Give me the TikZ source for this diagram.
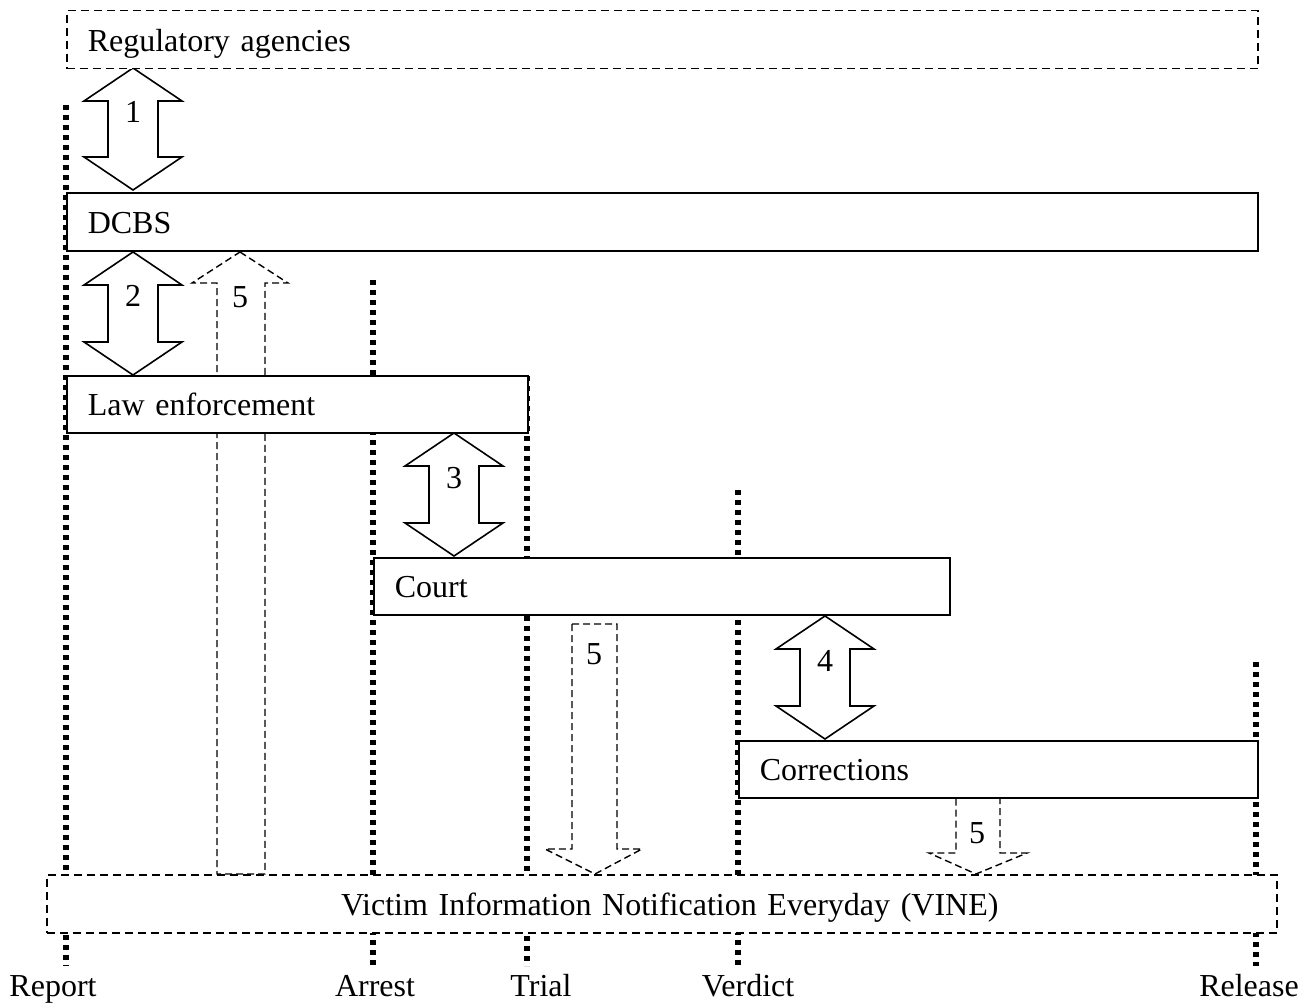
\documentclass[tikz,border=0pt]{standalone}
\usepackage{fontspec}
\setmainfont{Liberation Serif}
\begin{document}
\begin{tikzpicture}[x=1pt,y=-1pt,
  every node/.style={font=\fontsize{32}{37}\selectfont},
  box/.style={draw, line width=1.6pt, fill=white, anchor=north west,
    inner xsep=21pt, inner ysep=0pt, align=left,
    text height=23pt, text depth=0pt, minimum height=58pt},
  dbox/.style={box, dash pattern=on 8pt off 5pt, line width=1.5pt},
  timeline/.style={line width=5.5pt, dash pattern=on 5pt off 5pt},
  dblarrow/.style={draw, line width=1.6pt, fill=white, line join=miter},
  dasharrow/.style={draw, line width=1.4pt, dash pattern=on 7pt off 4pt},
  num/.style={anchor=base, inner sep=0pt},
  lab/.style={anchor=base, inner sep=0pt}]
\useasboundingbox (0,0) rectangle (1310,1003);

% time labels
\node[lab] (report)  at (53,996)   {Report};
\node[lab] (arrest)  at (375,996)  {Arrest};
\node[lab] (trial)   at (541,996)  {Trial};
\node[lab] (verdict) at (748,996)  {Verdict};
\node[lab] (release) at (1249,996) {Release};

% time lines
\coordinate (reportT)  at (66,105);
\coordinate (reportB)  at (66,966);
\coordinate (arrestT)  at (373,280);
\coordinate (arrestB)  at (373,966);
\coordinate (trialT)   at (527,376);
\coordinate (trialB)   at (527,966);
\coordinate (verdictT) at (738,490);
\coordinate (verdictB) at (738,966);
\coordinate (releaseT) at (1256,662);
\coordinate (releaseB) at (1256,966);
\draw[timeline] (reportT) -- (reportB);
\draw[timeline] (arrestT) -- (arrestB);
\draw[timeline] (trialT) -- (trialB);
\draw[timeline] (verdictT) -- (verdictB);
\draw[timeline] (releaseT) -- (releaseB);

% dashed arrows (5)
\draw[dasharrow] (240,252) -- (288,283) -- (265,283) -- (265,874) -- (217,874) -- (217,283) -- (192,283) -- cycle;
\node[num] (n5a) at (240,308) {5};
\draw[dasharrow] (572,624) -- (617,624) -- (617,849) -- (642,849) -- (595,874) -- (545,849) -- (572,849) -- cycle;
\node[num] (n5b) at (594,664) {5};
\draw[dasharrow] (956,797) -- (1000,797) -- (1000,853) -- (1027,853) -- (976,874) -- (929,853) -- (956,853) -- cycle;
\node[num] (n5c) at (977,843) {5};

% double arrows
\newcommand\DblArrow[3]{%
  \draw[dblarrow] (#1,#2) -- (#1+49,#2+33) -- (#1+25,#2+33) -- (#1+25,#3-33)
    -- (#1+49,#3-33) -- (#1,#3) -- (#1-49,#3-33) -- (#1-25,#3-33)
    -- (#1-25,#2+33) -- (#1-49,#2+33) -- cycle;}
\DblArrow{133}{68}{190}
\node[num] (n1) at (133,123) {1};
\DblArrow{133}{252}{375}
\node[num] (n2) at (133,307) {2};
\DblArrow{454}{433}{556}
\node[num] (n3) at (454,488) {3};
\DblArrow{825}{616}{739}
\node[num] (n4) at (825,671) {4};

% boxes
\node[dbox, text width=1149pt] (reg) at (66,10) {Regulatory agencies};
\node[box, text width=1149pt] (dcbs) at (66,192) {DCBS};
\node[box, text width=419pt, minimum height=57pt] (law) at (66,375) {Law enforcement};
\node[box, text width=534pt, minimum height=57pt] (court) at (373,557) {Court};
\node[box, text width=477pt, minimum height=57pt] (corr) at (738,740) {Corrections};
\node[dbox, text width=1214pt, inner xsep=8pt, align=center, minimum height=58pt] (vine) at (46,874) {\hspace*{16pt}Victim Information Notification Everyday (VINE)};
\end{tikzpicture}
\end{document}
